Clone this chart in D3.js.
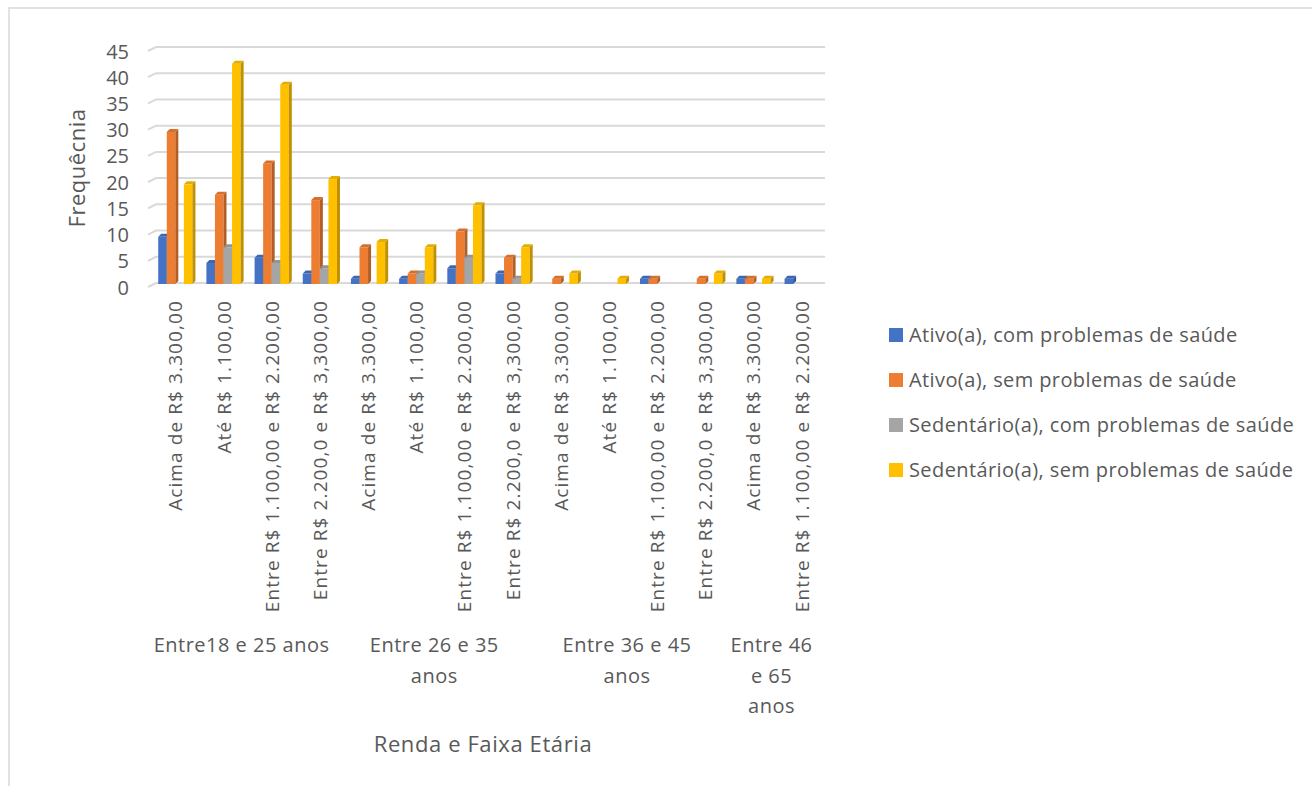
<!DOCTYPE html>
<html lang="pt">
<head>
<meta charset="UTF-8">
<title>Frequência por renda e faixa etária</title>
<style>
  body { margin: 0; background: #fff; }
  svg text { font-family: "Open Sans", "Noto Sans", sans-serif; fill: #595959; }
</style>
</head>
<body>
<svg id="chart"></svg>
<script src="https://cdn.jsdelivr.net/npm/d3@7/dist/d3.min.js"></script>
<script>
// faixas etárias e categorias de renda
const groupLines = [['Entre18 e 25 anos'], ['Entre 26 e 35', 'anos'], ['Entre 36 e 45', 'anos'], ['Entre 46', 'e 65', 'anos']];
const categories = [
  'Acima de R$ 3.300,00', 'Até R$ 1.100,00', 'Entre R$ 1.100,00 e R$ 2.200,00', 'Entre R$ 2.200,0 e R$ 3,300,00',
  'Acima de R$ 3.300,00', 'Até R$ 1.100,00', 'Entre R$ 1.100,00 e R$ 2.200,00', 'Entre R$ 2.200,0 e R$ 3,300,00',
  'Acima de R$ 3.300,00', 'Até R$ 1.100,00', 'Entre R$ 1.100,00 e R$ 2.200,00', 'Entre R$ 2.200,0 e R$ 3,300,00',
  'Acima de R$ 3.300,00', 'Entre R$ 1.100,00 e R$ 2.200,00'
];
const categoryGroup = [0, 0, 0, 0, 1, 1, 1, 1, 2, 2, 2, 2, 3, 3];

const seriesNames = [
  'Ativo(a), com problemas de saúde',
  'Ativo(a), sem problemas de saúde',
  'Sedentário(a), com problemas de saúde',
  'Sedentário(a), sem problemas de saúde'
];
const ativoCom = [9, 4, 5, 2, 1, 1, 3, 2, 0, 0, 1, 0, 1, 1];
const ativoSem = [29, 17, 23, 16, 7, 2, 10, 5, 1, 0, 1, 1, 1, 0];
const sedentCom = [0, 7, 4, 3, 0, 2, 5, 1, 0, 0, 0, 0, 0, 0];
const sedentSem = [19, 42, 38, 20, 8, 7, 15, 7, 2, 1, 0, 2, 1, 0];
const seriesValues = [ativoCom, ativoSem, sedentCom, sedentSem];
const colors = ['#4472C4', '#ED7D31', '#A5A5A5', '#FFC000'];
const yTicks = [0, 5, 10, 15, 20, 25, 30, 35, 40, 45];

const W = 1312, H = 786;
const svg = d3.select('#chart').attr('width', W).attr('height', H);

// moldura do gráfico
svg.append('rect')
  .attr('x', 9).attr('y', 8).attr('width', W).attr('height', H)
  .attr('fill', 'none').attr('stroke', '#d9d9d9').attr('stroke-width', 1.5);

const y = d3.scaleLinear().domain([0, 45]).range([284, 48]);
const x = d3.scaleBand().domain(d3.range(categories.length)).range([151, 826]).paddingInner(0.29).paddingOuter(0.15);
const xs = d3.scaleBand().domain(d3.range(seriesNames.length)).range([0, x.bandwidth()]);

// linhas de grade com o pequeno chanfro 3D à esquerda
const grid = svg.append('g');
yTicks.forEach(t => {
  grid.append('path')
    .attr('d', `M148,${y(t) + 3}L156,${y(t) - 1}L825,${y(t) - 1}`)
    .attr('fill', 'none').attr('stroke', '#d9d9d9').attr('stroke-width', 2);
});

// eixo y
const yAxis = svg.append('g').attr('transform', 'translate(129,3)')
  .call(d3.axisLeft(y).tickValues(yTicks).tickSize(0).tickPadding(0));
yAxis.select('.domain').remove();
yAxis.selectAll('text').attr('font-size', 20).attr('dy', '0.35em')
  .style('font-family', '"Open Sans", sans-serif').attr('fill', '#595959');

// barras com profundidade
const depth = 3;
const bars = svg.append('g');
seriesValues.forEach((vals, s) => {
  const col = d3.color(colors[s]);
  vals.forEach((v, i) => {
    if (!v) return;
    const x0 = x(i) + xs(s), w = xs.bandwidth(), y0 = y(v), base = y(0);
    bars.append('rect')
      .attr('x', x0).attr('y', y0).attr('width', w).attr('height', base - y0)
      .attr('fill', colors[s]);
    bars.append('path')
      .attr('d', `M${x0 + w},${y0}L${x0 + w + depth},${y0 - depth}L${x0 + w + depth},${base - depth}L${x0 + w},${base}Z`)
      .attr('fill', col.darker(0.8));
    bars.append('path')
      .attr('d', `M${x0},${y0}L${x0 + depth},${y0 - depth}L${x0 + w + depth},${y0 - depth}L${x0 + w},${y0}Z`)
      .attr('fill', col.darker(0.3));
  });
});

// rótulos das categorias (rotacionados)
svg.append('g').selectAll('text')
  .data(categories)
  .join('text')
  .attr('transform', (d, i) => `translate(${x(i) + x.bandwidth() / 2 + 7},300) rotate(-90)`)
  .attr('text-anchor', 'end')
  .attr('font-size', 19)
  .attr('letter-spacing', 1.1)
  .text(d => d);

// rótulos das faixas etárias
const gl = svg.append('g');
groupLines.forEach((lines, g) => {
  const idx = categoryGroup.map((c, i) => c === g ? i : -1).filter(i => i >= 0);
  const half = x.step() * x.paddingInner() / 2;
  const cx = (x(idx[0]) - half + x(idx[idx.length - 1]) + x.bandwidth() + half) / 2 - 6;
  lines.forEach((ln, k) => {
    gl.append('text')
      .attr('x', cx).attr('y', 652 + k * 30.5)
      .attr('text-anchor', 'middle')
      .attr('font-size', 20)
      .attr('letter-spacing', 0.5)
      .text(ln);
  });
});

// títulos dos eixos
svg.append('text')
  .attr('transform', 'translate(85,168) rotate(-90)')
  .attr('text-anchor', 'middle')
  .attr('font-size', 22)
  .attr('letter-spacing', 0.5)
  .text('Frequêcnia');
svg.append('text')
  .attr('x', 483).attr('y', 752)
  .attr('text-anchor', 'middle')
  .attr('font-size', 22)
  .attr('letter-spacing', 0.6)
  .text('Renda e Faixa Etária');

// legenda
const legend = svg.append('g');
seriesNames.forEach((name, s) => {
  const ly = 335 + s * 45;
  legend.append('rect')
    .attr('x', 889).attr('y', ly - 7).attr('width', 14).attr('height', 14)
    .attr('fill', colors[s]);
  legend.append('text')
    .attr('x', 909).attr('y', ly).attr('dy', '0.35em')
    .attr('font-size', 20)
    .attr('letter-spacing', 0.4)
    .text(name);
});
</script>
</body>
</html>
